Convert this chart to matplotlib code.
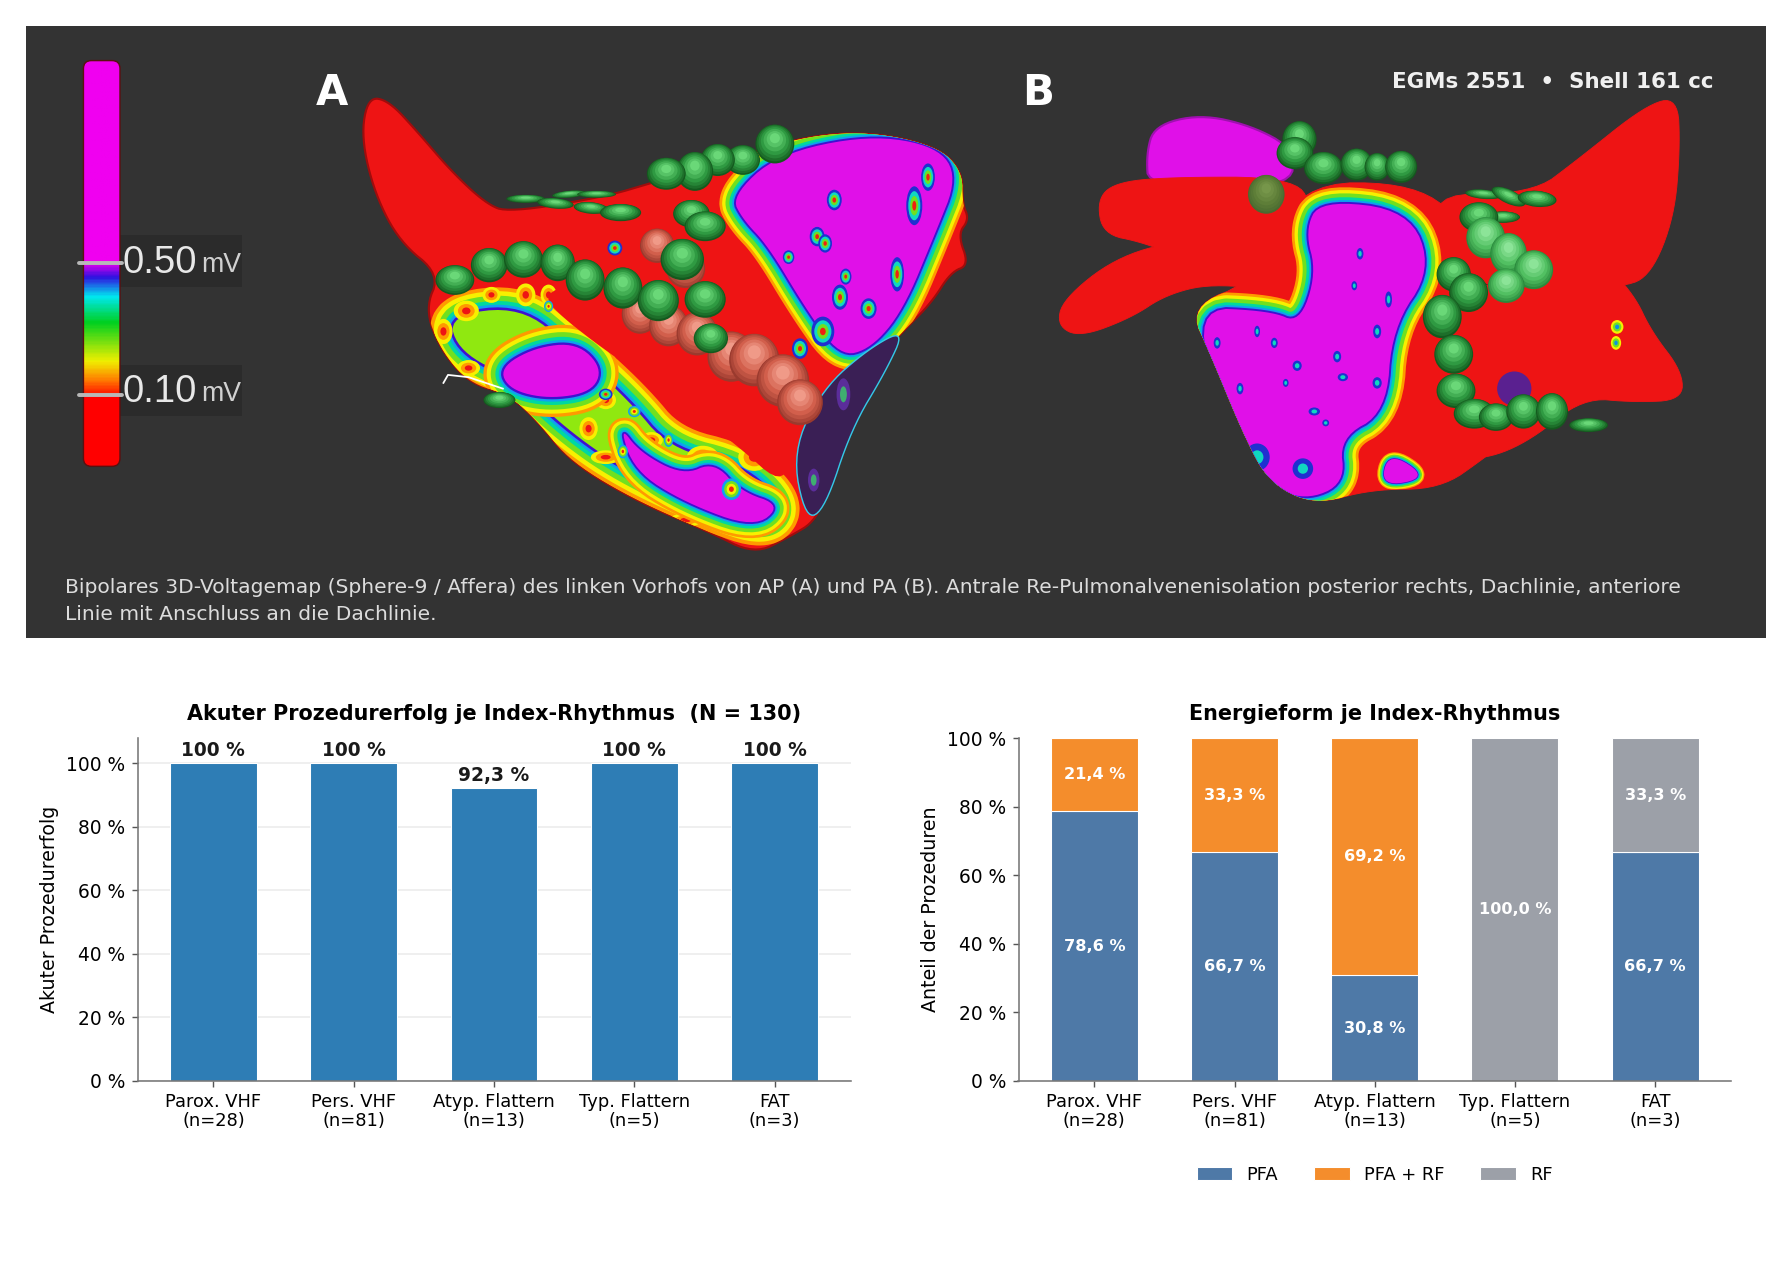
import numpy as np
import matplotlib
matplotlib.use("Agg")
import matplotlib.pyplot as plt
from matplotlib.patches import Polygon, Ellipse, Rectangle, FancyBboxPatch
from matplotlib.colors import LinearSegmentedColormap, to_rgb

# ---------- chart data ----------
categories = ["Parox. VHF\n(n=28)", "Pers. VHF\n(n=81)", "Atyp. Flattern\n(n=13)", "Typ. Flattern\n(n=5)", "FAT\n(n=3)"]
success = [100, 100, 92.3, 100, 100]
success_labels = ["100 %", "100 %", "92,3 %", "100 %", "100 %"]
pfa = [78.6, 66.7, 30.8, 0, 66.7]
pfa_rf = [21.4, 33.3, 69.2, 0, 0]
rf = [0, 0, 0, 100, 33.3]
yticks = [0, 20, 40, 60, 80, 100]
title_left = "Akuter Prozedurerfolg je Index-Rhythmus  (N = 130)"
title_right = "Energieform je Index-Rhythmus"
caption = ("Bipolares 3D-Voltagemap (Sphere-9 / Affera) des linken Vorhofs von AP (A) und PA (B). "
           "Antrale Re-Pulmonalvenenisolation posterior rechts, Dachlinie, anteriore\n"
           "Linie mit Anschluss an die Dachlinie.")

C_BAR, C_PFA, C_MIX, C_RF = "#2E7DB5", "#4E79A7", "#F48D2C", "#9CA0A8"
W, H, DPI = 1792, 1287, 128
plt.rcParams["font.family"] = "DejaVu Sans"
fig = plt.figure(figsize=(W / DPI, H / DPI), dpi=DPI, facecolor="white")

# ---------- picture panel, drawn in 1568-wide sketch coordinates ----------
bg = fig.add_axes([0, 0, 1, 1], zorder=0)
bg.set_xlim(0, 1568); bg.set_ylim(1126, 0); bg.axis("off")
bg.add_patch(Rectangle((23, 23), 1522, 535, fc="#333333", ec="none"))

RED = "#EE1414"


def smooth(pts, n=3):
    p = np.asarray(pts, float)
    for _ in range(n):
        q = np.roll(p, -1, axis=0)
        p = np.column_stack([0.75 * p + 0.25 * q, 0.25 * p + 0.75 * q]).reshape(-1, 2)
    return p


def shape(pts, fc=RED, ec="#A00C0C", lw=1.2, z=2):
    pa = Polygon(smooth(pts), closed=True, fc=fc, ec=ec, lw=lw, zorder=z, joinstyle="round")
    bg.add_patch(pa)
    return pa


BANDS = [(30, "#FF9A00"), (25, "#F7F000"), (19, "#70E020"), (12, "#00D8A0"), (7, "#10A0F0"), (3.5, "#4010D0")]


def island(pts, clip, scale=1.0, z=3, core="#E010E8"):
    for lw, col in BANDS:
        pa = Polygon(smooth(pts), closed=True, fc=col, ec=col, lw=lw * scale, zorder=z, joinstyle="round")
        bg.add_patch(pa); pa.set_clip_path(clip)
    pa = Polygon(smooth(pts), closed=True, fc=core, ec="none", zorder=z)
    bg.add_patch(pa); pa.set_clip_path(clip)


def spot(x, y, w, h, clip, cols=("#2030D0", "#10D8C0", "#70E020", "#F02010"), z=4):
    for i, c in enumerate(cols):
        f = 1 - i / len(cols)
        e = Ellipse((x, y), w * f, h * f, fc=c, ec="none", zorder=z)
        bg.add_patch(e)
        if clip is not None:
            e.set_clip_path(clip)


GREEN = ("#145A1E", "#2F9A42", "#6AD878")
SALMON = ("#9A3A2E", "#D25F4C", "#F09A88")
LIGHT = ("#2A8A3C", "#52C062", "#8CE498")
FADED = ("#4A6A30", "#5E7E38", "#76964A")
FRACS = [1, .94, .84, .72, .58, .42, .26]


def sphere(x, y, w, h, pal=GREEN, ang=0, z=6):
    rgb = np.array([to_rgb(c) for c in pal])
    for i, f in enumerate(FRACS):
        t = i / (len(FRACS) - 1) * 2
        col = [np.interp(t, [0, 1, 2], rgb[:, k]) for k in range(3)]
        bg.add_patch(Ellipse((x, y - h * .05 * i / 2), w * f, h * f, angle=ang, fc=col, ec="none", zorder=z))


# ---- view A
sil_a = [(322, 85), (340, 88), (365, 115), (395, 150), (425, 178), (445, 186), (530, 172), (570, 160), (640, 140),
         (700, 120), (760, 115), (820, 128), (842, 150), (842, 178), (848, 192), (838, 205), (848, 232), (832, 238),
         (815, 265), (790, 290), (760, 322), (745, 362), (725, 420), (715, 455), (690, 470), (660, 485), (620, 465),
         (560, 440), (500, 405), (470, 368), (445, 345), (410, 335), (385, 305), (372, 270), (385, 240), (350, 212),
         (328, 170), (316, 120)]
A = shape(sil_a)
# mottled low-voltage band of the lower left
island([(392, 276), (456, 268), (500, 305), (550, 350), (585, 392), (650, 408), (685, 442), (670, 462), (620, 445),
        (545, 410), (495, 375), (450, 332), (402, 308)], A, core="#90E810", scale=.85)
for s in [(408, 272, 22, 18), (430, 258, 16, 14), (460, 258, 17, 20), (388, 290, 16, 22), (410, 322, 20, 14), (480, 258, 14, 18),
          (530, 350, 18, 16), (515, 375, 16, 20), (495, 345, 14, 14), (615, 400, 28, 20), (660, 400, 28, 24), (570, 385, 20, 14),
          (530, 400, 26, 12), (600, 455, 28, 12)]:
    spot(*s, A, cols=("#F7F000", "#FF9A00", RED), z=3.2)
island([(437, 322), (468, 304), (505, 300), (527, 322), (518, 343), (480, 349), (446, 341)], A, scale=.75, z=3.3)
island([(542, 372), (560, 396), (598, 416), (625, 404), (648, 430), (684, 442), (660, 462), (600, 440), (555, 412)], A, scale=.6, z=3.3)
island([(640, 172), (680, 135), (760, 118), (820, 128), (838, 155), (818, 205), (790, 272), (762, 305), (735, 312),
        (705, 270), (672, 215), (650, 192)], A, scale=.62)
# red low-voltage strip crossing the map
pa = Polygon(smooth([(470, 255), (530, 245), (600, 300), (690, 365), (690, 430), (640, 385), (570, 335), (500, 285)]),
             closed=True, fc=RED, ec="none", zorder=3.5)
bg.add_patch(pa); pa.set_clip_path(A)
for s in [(730, 175, 13, 18), (715, 207, 13, 17), (722, 213, 12, 16), (735, 260, 14, 22), (740, 242, 10, 14),
          (538, 217, 13, 13), (720, 290, 20, 26), (760, 270, 14, 18), (700, 305, 14, 18), (690, 225, 10, 12),
          (800, 180, 14, 34), (812, 155, 12, 24), (785, 240, 12, 30), (530, 345, 12, 10)]:
    spot(*s, A, z=4)
for s in [(640, 428, 17, 19), (555, 360, 11, 10), (480, 268, 8, 10), (585, 385, 8, 12), (545, 395, 9, 12)]:
    spot(*s, A, cols=("#10A0F0", "#70E020", "#F7F000", "#F02010"), z=4)
# flap on the right of view A
flap = shape([(693, 395), (720, 340), (760, 305), (792, 288), (775, 325), (745, 375), (722, 445), (705, 455)],
             fc="#3A1F55", ec="#35C8E8", lw=.8, z=5)
for s in [(738, 345, 12, 28), (712, 420, 10, 20)]:
    spot(*s, flap, cols=("#5B2D9A", "#3FAF70"), z=5)
bg.plot([388, 392, 410, 440], [335, 328, 330, 340], color="white", lw=1, zorder=7)

for x, y, w, h, a in [(460, 174, 34, 7, 0), (486, 178, 32, 9, 5), (498, 170, 30, 6, -5), (522, 170, 34, 6, 0),
                      (517, 182, 30, 10, 5), (543, 186, 36, 15, 0), (437, 350, 28, 14, 0)]:
    sphere(x, y, w, h, ang=a, z=5)
for x, y, w, h in [(560, 275, 32, 34), (585, 285, 34, 36), (610, 292, 36, 38), (640, 312, 42, 44), (660, 315, 44, 46),
                   (685, 333, 46, 46), (700, 352, 40, 40), (575, 215, 30, 30), (600, 235, 34, 34)]:
    sphere(x, y, w, h, SALMON, z=5.5)
for x, y, w, h in [(398, 245, 34, 26), (428, 232, 32, 30), (458, 227, 34, 32), (488, 230, 30, 32), (512, 245, 34, 36),
                   (545, 252, 34, 36), (576, 263, 36, 36), (617, 262, 36, 32), (678, 126, 34, 34), (650, 140, 30, 26),
                   (628, 140, 30, 28), (608, 150, 32, 34), (583, 152, 34, 28), (605, 187, 32, 24), (617, 198, 36, 26),
                   (597, 227, 38, 36), (622, 296, 30, 26)]:
    sphere(x, y, w, h)

# ---- view B
lobe = shape([(1003, 135), (1010, 110), (1050, 100), (1095, 110), (1132, 130), (1130, 165), (1005, 165)], fc="#E010E8", ec="#A010B0", z=1.5)
B_R1 = shape([(960, 175), (975, 160), (1020, 155), (1130, 155), (1150, 180), (1140, 245), (1100, 248), (1040, 228), (1000, 212), (965, 205)], ec=RED, lw=.5)
B_R2 = shape([(925, 285), (930, 262), (975, 226), (1030, 210), (1130, 215), (1125, 255), (1060, 248), (1020, 258), (990, 278), (945, 295)], ec=RED, lw=.5)
shape([(1240, 170), (1340, 170), (1380, 140), (1440, 92), (1468, 85), (1470, 130), (1465, 190), (1445, 240), (1420, 252), (1290, 260)], ec=RED, lw=.5)
shape([(1260, 260), (1300, 250), (1400, 226), (1430, 258), (1445, 290), (1472, 325), (1472, 350), (1430, 352), (1385, 348),
       (1340, 385), (1300, 402), (1260, 400)], ec=RED, lw=.5)
B = shape([(1100, 245), (1135, 160), (1240, 160), (1285, 200), (1300, 260), (1305, 330), (1335, 372), (1300, 400), (1260, 428),
           (1200, 428), (1150, 442), (1110, 422), (1088, 380), (1060, 312), (1040, 268)], ec=RED, lw=.5, z=2.5)
island([(1155, 175), (1233, 184), (1253, 236), (1218, 287), (1213, 361), (1172, 383), (1177, 423), (1142, 438), (1107, 423),
        (1077, 376), (1042, 269), (1112, 272), (1137, 283), (1152, 239), (1142, 202)], B, scale=.62)
island([(1215, 395), (1250, 418), (1208, 426)], B, scale=.25)
for s in [(1190, 222, 6, 10), (1115, 300, 6, 9), (1170, 312, 7, 10), (1135, 320, 8, 9), (1175, 330, 9, 7), (1150, 360, 10, 7),
          (1140, 410, 18, 18), (1100, 290, 5, 10), (1205, 335, 8, 10), (1205, 290, 7, 12), (1160, 370, 6, 6), (1125, 335, 5, 7),
          (1185, 250, 5, 8), (1215, 262, 6, 14), (1100, 400, 22, 24), (1065, 300, 6, 10), (1085, 340, 6, 10)]:
    spot(*s, B, cols=("#2030D0", "#10D8C0"))
for s in [(1415, 286, 11, 12), (1414, 300, 9, 12)]:
    spot(*s, None, cols=("#F7F000", "#70E020", "#1090E0"), z=3)
spot(1325, 340, 30, 30, None, cols=("#5A2090",), z=3)
for x, y, w, h, a in [(1298, 170, 32, 8, 5), (1320, 172, 32, 12, 25), (1345, 174, 34, 14, 5), (1315, 190, 30, 10, 0),
                      (1390, 372, 34, 12, 0)]:
    sphere(x, y, w, h, ang=a, z=5)
for x, y, w, h in [(1137, 122, 30, 32), (1133, 134, 32, 28), (1158, 147, 34, 28), (1187, 144, 28, 28), (1205, 146, 22, 24),
                   (1226, 146, 28, 28), (1294, 190, 34, 26), (1272, 240, 30, 30), (1285, 256, 34, 34), (1262, 277, 34, 38),
                   (1272, 310, 34, 34), (1274, 342, 34, 30), (1290, 362, 36, 26), (1309, 365, 30, 24), (1333, 360, 30, 30),
                   (1358, 360, 28, 32)]:
    sphere(x, y, w, h)
for x, y, w, h in [(1300, 208, 34, 36), (1320, 222, 32, 36), (1342, 236, 34, 34), (1318, 250, 32, 30)]:
    sphere(x, y, w, h, LIGHT)
sphere(1108, 170, 32, 34, FADED, z=4)

# colour scale
scale_cm = LinearSegmentedColormap.from_list("volt", [
    (0, "#F000F0"), (177 / 355, "#F000F0"), (190 / 355, "#3010E0"), (207 / 355, "#00E8F0"), (230 / 355, "#00D020"),
    (264 / 355, "#F0F000"), (280 / 355, "#FF8000"), (295 / 355, "#FF0000"), (1, "#FF0000")])
im = bg.imshow(np.linspace(0, 1, 356)[:, None], cmap=scale_cm, extent=(73, 105, 408, 53), aspect="auto", zorder=3)
clip = FancyBboxPatch((75, 55), 28, 351, boxstyle="round,pad=2,rounding_size=7", fc="none", ec="#5a1010", lw=.8, zorder=3.5)
bg.add_patch(clip); im.set_clip_path(clip)
bg.set_xlim(0, 1568); bg.set_ylim(1126, 0)
for y, txt in [(229, "0.50"), (342, "0.10")]:
    bg.add_patch(Rectangle((105, y - 23), 107, 45, fc="#2B2B2B", ec="none", zorder=2))
    bg.plot([69, 107], [y + 1 if y < 300 else y + 4] * 2, color="#B8B8B8", lw=2.2, zorder=4, solid_capstyle="round")
    bg.text(107, y + 1, txt, color="#E8E8E8", fontsize=21.5, family="Liberation Sans", va="center", ha="left", zorder=5)
    bg.text(176, y + 3, "mV", color="#D0D0D0", fontsize=15, family="Liberation Sans", va="center", ha="left", zorder=5)

bg.text(290, 81, "A", color="white", fontsize=23.5, fontweight="bold", ha="center", va="center", zorder=8)
bg.text(908, 81, "B", color="white", fontsize=23.5, fontweight="bold", ha="center", va="center", zorder=8)
bg.text(1499, 71.5, "EGMs 2551  •  Shell 161 cc", color="#F0F0F0", fontsize=12.05, fontweight="bold", ha="right", va="center", zorder=8)
bg.text(57, 526, caption, color="#DCDCDC", fontsize=11.42, ha="left", va="center", linespacing=1.5, zorder=8)


# ---------- charts ----------
def style(ax, ylabel):
    for s in ("top", "right"):
        ax.spines[s].set_visible(False)
    for s in ("left", "bottom"):
        ax.spines[s].set_color("#777777")
        ax.spines[s].set_linewidth(.9)
    ax.set_ylabel(ylabel, fontsize=10.7, labelpad=4)
    ax.set_yticks(yticks)
    ax.set_yticklabels([f"{v} %" for v in yticks], fontsize=10.5)
    ax.set_xticks(range(len(categories)))
    ax.set_xticklabels(categories, fontsize=10.05, linespacing=1.05)
    ax.tick_params(axis="both", color="#555555", length=3.5, width=.8, pad=3.5)
    ax.set_axisbelow(True)


def axes_px(x0, x1, y0, y1):
    return fig.add_axes([x0 / W, 1 - y1 / H, (x1 - x0) / W, (y1 - y0) / H], zorder=2)


x = np.arange(len(categories))
ax1 = axes_px(137.5, 850.5, 738, 1081)
bars = ax1.bar(x, success, width=.62, color=C_BAR, edgecolor="white", linewidth=.6)
ax1.set_ylim(0, 108)
ax1.yaxis.grid(True, color="#EEEEEE", lw=1)
style(ax1, "Akuter Prozedurerfolg")
for b, lab in zip(bars, success_labels):
    ax1.text(b.get_x() + b.get_width() / 2, b.get_height() + 1, lab, ha="center", va="bottom", fontsize=10.5, fontweight="bold", color="#1a1a1a")
ax1.set_title(title_left, fontsize=11.7, fontweight="bold", pad=10.2)

ax2 = axes_px(1018.5, 1731, 738, 1081)
bottom = np.zeros(len(x))
for vals, col, name in [(pfa, C_PFA, "PFA"), (pfa_rf, C_MIX, "PFA + RF"), (rf, C_RF, "RF")]:
    vals = np.array(vals)
    ax2.bar(x, vals, width=.62, bottom=bottom, color=col, edgecolor="white", linewidth=.6, label=name)
    for xi, v, b0 in zip(x, vals, bottom):
        if v > 0:
            ax2.text(xi, b0 + v / 2, f"{v:.1f} %".replace(".", ","), ha="center", va="center", color="white", fontsize=9.1, fontweight="bold")
    bottom += vals
ax2.set_ylim(0, 100)
style(ax2, "Anteil der Prozeduren")
ax2.set_title(title_right, fontsize=11.7, fontweight="bold", pad=10.2)
ax2.legend(loc="upper center", bbox_to_anchor=(.5, -.2), ncol=3, frameon=False, fontsize=10.05, columnspacing=2.0)

fig.savefig("out.png", dpi=DPI, facecolor="white")
